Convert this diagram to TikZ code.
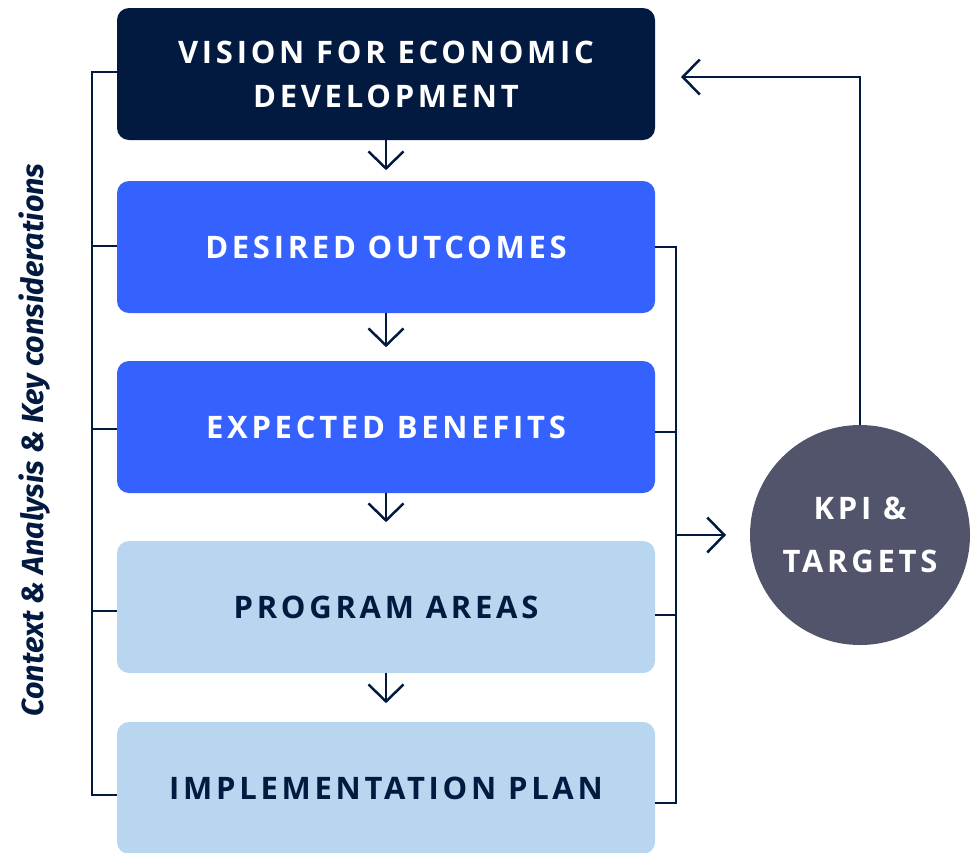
\documentclass[tikz,border=0pt]{standalone}
\usepackage{fontspec}
\setmainfont{Fira Sans}
\newfontfamily\boxfont[LetterSpace=12]{Open Sans Bold}
\newfontfamily\sidefont{Fira Sans}
\usetikzlibrary{arrows.meta}
\definecolor{navy}{HTML}{021A40}
\definecolor{bblue}{HTML}{3562FF}
\definecolor{lblue}{HTML}{B8D6F0}
\definecolor{slate}{HTML}{51546A}
\tikzset{
  card/.style={rounded corners=12pt, minimum width=538pt, minimum height=132pt, inner sep=0pt, align=center,
    font=\boxfont\fontsize{31}{44}\selectfont},
  darkcard/.style={card, fill=navy, text=white},
  bluecard/.style={card, fill=bblue, text=white},
  lightcard/.style={card, fill=lblue, text=navy},
  conn/.style={draw=navy, line width=2.5pt},
  chev/.style={conn, -{Straight Barb[length=17pt, width=35pt, line width=2.5pt]}},
}
\begin{document}
\begin{tikzpicture}[x=1pt,y=-1pt]
\useasboundingbox (0,0) rectangle (976,852);
\node[darkcard] (vis) at (386,74) {VISION FOR ECONOMIC\\DEVELOPMENT};
\node[bluecard] (des) at (386,247) {DESIRED OUTCOMES};
\node[bluecard] (exp) at (386,427) {EXPECTED BENEFITS};
\node[lightcard] (prg) at (386,607) {PROGRAM AREAS};
\node[lightcard] (imp) at (386,788) {IMPLEMENTATION PLAN};
\node[circle, fill=slate, minimum size=220pt, inner sep=0pt, text=white, align=center,
  font=\boxfont\fontsize{31}{53}\selectfont] (kpi) at (860,535) {KPI \&\\TARGETS};
% down arrows
\draw[chev] (vis.south) -- ++(0,30);
\draw[chev] (des.south) -- ++(0,34);
\draw[chev] (exp.south) -- ++(0,29);
\draw[chev] (prg.south) -- ++(0,30);
% left bracket
\coordinate (lt) at (92,72);
\coordinate (lb) at (92,795);
\draw[conn] (vis.west |- 0,72) -- (lt) -- (lb) -- (imp.west |- 0,795);
\draw[conn] (92,246) -- (des.west |- 0,246);
\draw[conn] (92,429) -- (exp.west |- 0,429);
\draw[conn] (92,611) -- (prg.west |- 0,611);
% right bracket
\coordinate (rt) at (676,247);
\coordinate (rb) at (676,803);
\coordinate (rm) at (676,535);
\draw[conn] (des.east |- 0,247) -- (rt) -- (rb) -- (imp.east |- 0,803);
\draw[conn] (exp.east |- 0,432) -- (676,432);
\draw[conn] (prg.east |- 0,615) -- (676,615);
\draw[chev] (rm) -- (726,535);
% feedback
\coordinate (fb) at (860,77);
\draw[chev] (kpi.north) -- (fb) -- (681,77);
% side label
\node[rotate=90, text=navy, font=\sidefont\bfseries\itshape\fontsize{30.5}{36}\selectfont] (side) at (35,440) {Context \& Analysis \& Key considerations};
\end{tikzpicture}
\end{document}
